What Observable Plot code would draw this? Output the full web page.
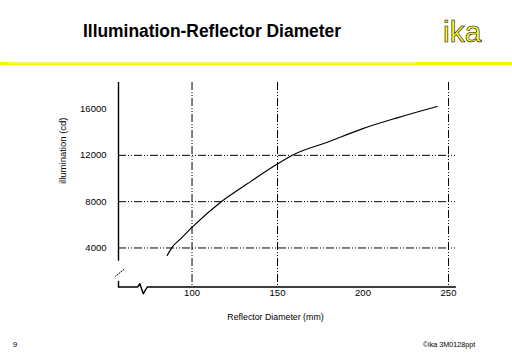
<!DOCTYPE html>
<html><head><meta charset="utf-8">
<script src="https://cdn.jsdelivr.net/npm/d3@7"></script>
<script src="https://cdn.jsdelivr.net/npm/@observablehq/plot@0.6"></script>
<style>
body{margin:0;background:#fff;}
#wrap{position:relative;width:512px;height:354px;overflow:hidden;font-family:Arial,"Liberation Sans",sans-serif;background:#fff;color:#000}
#wrap > div{position:absolute;white-space:nowrap;line-height:1}
#chart{left:0;top:0}
#title{font-weight:bold;transform-origin:0 0}
#logo{color:#ffff30;-webkit-text-stroke:0.6px #000;}
#bar1{left:0;top:62px;width:512px;height:3px;background:#f4f400}
#bar2{left:8px;top:62px;width:408px;height:2px;background:#f2f270}
#ylab{transform:rotate(-90deg);transform-origin:0 0}
</style></head><body>
<div id="wrap">
<div id="chart"></div>
<div id="bar1"></div><div id="bar2"></div>
<div id="title">Illumination-Reflector Diameter</div>
<div id="logo">ika</div>
<div id="xlab">Reflector Diameter (mm)</div>
<div id="ylab">illumination (cd)</div>
<div id="page">9</div>
<div id="foot">©ika 3M0128ppt</div>
</div>
<script>
// ---- data ----
const diameter = [85.5, 88.4, 93.3, 100.1, 116.7, 132.3, 149.2, 159.5, 179.1, 199.5, 220, 243.4];
const illumination = [3350, 4070, 4790, 5800, 7950, 9540, 11180, 12070, 13130, 14290, 15240, 16220];
const xTicks = [100, 150, 200, 250];
const yTicks = [4000, 8000, 12000, 16000];
const xGrid = [100, 150, 250];
const yGrid = [4000, 8000, 12000];
const xDomain = [57, 254.1];
const yDomain = [630, 18290];
// axis break outline (data units)
const xAxisX = [57, 68.1, 69.5, 71.5, 73.8, 254.1];
const xAxisY = [630, 630, 910, 50, 630, 630];
const yAxisTopX = [57, 57], yAxisTopY = [18290, 2950];
const yAxisBotX = [57, 57], yAxisBotY = [1110, 630];
const yBreakX = [60.1, 55.3], yBreakY = [2140, 1570];

const curve = diameter.map((d, i) => ({d, v: illumination[i]}));
const zip = (xs, ys) => xs.map((x, i) => ({x, y: ys[i]}));

const plot = Plot.plot({
  width: 512, height: 354,
  marginLeft: 118, marginRight: 57, marginTop: 82, marginBottom: 67.5,
  style: {fontFamily: 'Arial, "Liberation Sans", sans-serif', fontSize: "9.5px", background: "transparent"},
  x: {domain: xDomain},
  y: {domain: yDomain},
  marks: [
    Plot.gridX(xGrid, {stroke: "#000", strokeOpacity: 1, strokeWidth: 1, strokeDasharray: "8,2,1,2,1,2"}),
    Plot.gridY(yGrid, {stroke: "#000", strokeOpacity: 1, strokeWidth: 1, strokeDasharray: "8,2,1,2,1,2"}),
    Plot.axisX(xTicks, {tickSize: 0, tickPadding: 2, label: null, tickFormat: d3.format("d")}),
    Plot.axisY(yTicks, {tickSize: 0, tickPadding: 12, label: null, tickFormat: d3.format("d")}),
    Plot.line(zip(xAxisX, xAxisY), {x: "x", y: "y", stroke: "#000", strokeWidth: 1.4}),
    Plot.line(zip(yAxisTopX, yAxisTopY), {x: "x", y: "y", stroke: "#000", strokeWidth: 1.4}),
    Plot.line(zip(yAxisBotX, yAxisBotY), {x: "x", y: "y", stroke: "#000", strokeWidth: 1.4}),
    Plot.line(zip(yBreakX, yBreakY), {x: "x", y: "y", stroke: "#000", strokeWidth: 1, strokeDasharray: "1,1.5"}),
    Plot.line(curve, {x: "d", y: "v", stroke: "#000", strokeWidth: 1.2, curve: "monotone-x"})
  ]
});
document.getElementById("chart").appendChild(plot);

// place text: x, baseline, size, anchor
function place(id, x, base, size, anchor) {
  const el = document.getElementById(id);
  el.style.fontSize = size + "px";
  const w = el.getBoundingClientRect().width;
  const top = base - 0.8465 * size;
  let left = x;
  if (anchor === "middle") left = x - w / 2;
  if (anchor === "end") left = x - w;
  el.style.left = left + "px";
  el.style.top = top + "px";
  return el;
}
const t = place("title", 82.7, 37.7, 17.5, "start");
const tw = t.getBoundingClientRect().width;
t.style.transform = `scaleX(${258 / tw})`;
place("logo", 443, 42.3, 30, "start");
place("xlab", 275.5, 320, 8.8, "middle");
place("page", 15, 347.5, 8, "middle");
place("foot", 449, 347.5, 7.2, "middle");
// rotated y label: center at (62.7, 179)
const yl = document.getElementById("ylab");
yl.style.fontSize = "9.5px";
const yw = yl.getBoundingClientRect().width;
yl.style.left = (62.7 - 9.5 * 0.5) + "px";
yl.style.top = (179 + yw / 2) + "px";
</script>
</body></html>
